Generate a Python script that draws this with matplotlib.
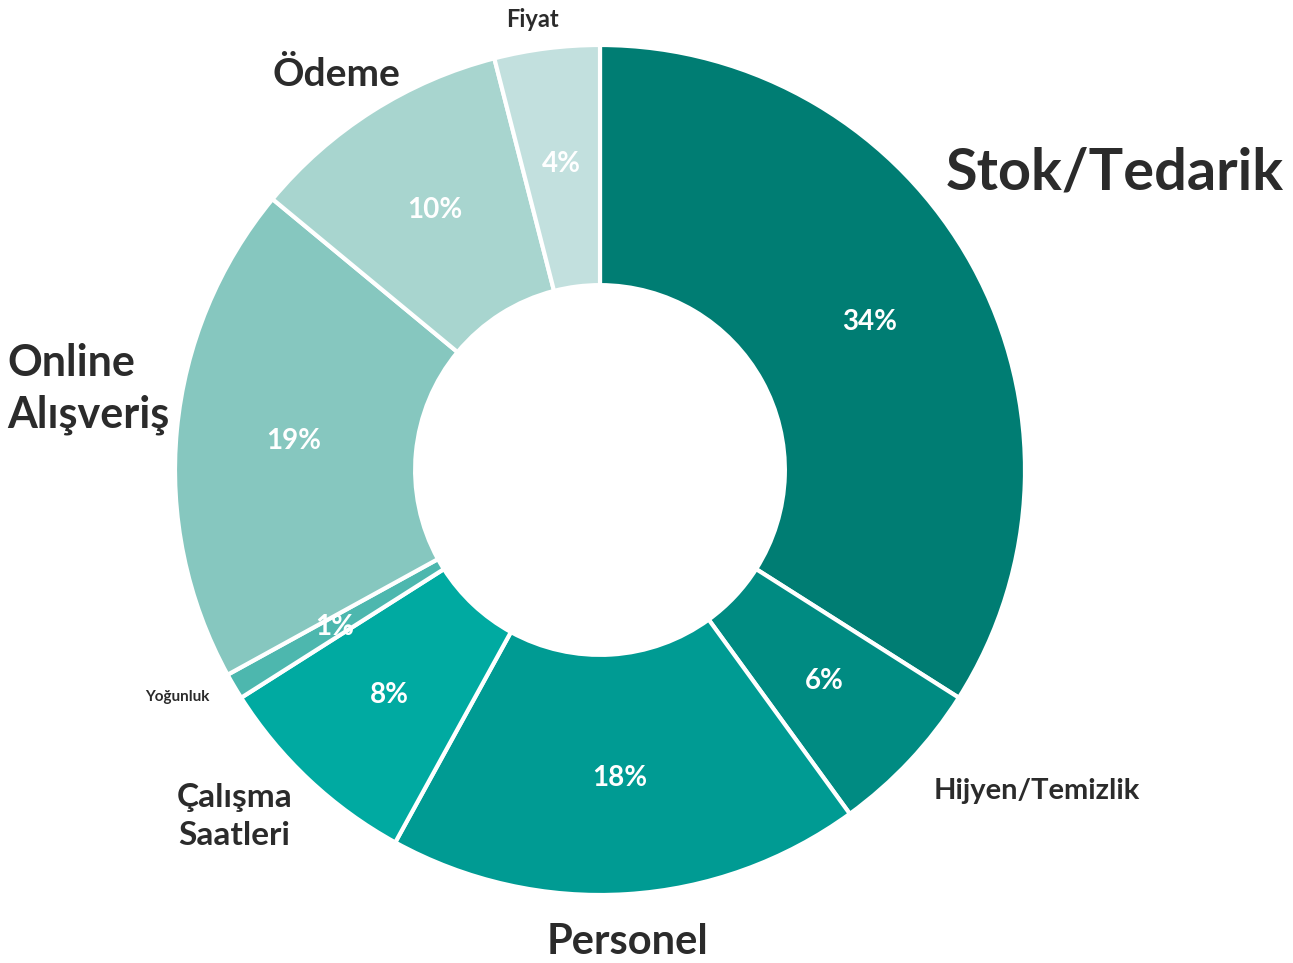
import numpy as np
import matplotlib.pyplot as plt

plt.rcParams["font.family"] = ["Lato", "DejaVu Sans"]

# shares of complaint topics, clockwise from top
labels = ["Stok/Tedarik", "Hijyen/Temizlik", "Personel", "Çalışma\nSaatleri",
          "Yoğunluk", "Online\nAlışveriş", "Ödeme", "Fiyat"]
values = [34, 6, 18, 8, 1, 19, 10, 4]
colors = ["#007D73", "#008B82", "#009B93", "#00AAA1",
          "#4DB7AE", "#86C7BF", "#A8D5CF", "#C2E0DE"]

# outer label placement (x, y, size, ha, linespacing)
label_pos = [(1.212, 0.70, 41.5, "center", 1.2),
             (1.028, -0.755, 21, "center", 1.2),
             (0.064, -1.11, 30, "center", 1.2),
             (-0.86, -0.815, 24, "center", 1.4),
             (-0.995, -0.535, 11, "center", 1.2),
             (-1.395, 0.19, 31, "left", 1.35),
             (-0.619, 0.93, 28, "center", 1.2),
             (-0.158, 1.06, 17, "center", 1.2)]

fig = plt.figure(figsize=(12.93, 9.63), dpi=100)
ax = fig.add_axes([0, 0, 1, 1])

wedges, texts, autotexts = ax.pie(
    values, colors=colors, startangle=90, counterclock=False,
    autopct="%1.0f%%", pctdistance=0.725,
    wedgeprops=dict(width=0.565, edgecolor="white", linewidth=3),
    textprops=dict(color="white", fontsize=20, fontweight="bold"))

for (x, y, s, ha, ls), lab in zip(label_pos, labels):
    ax.text(x, y, lab, fontsize=s, fontweight="bold", color="#2B2B2B",
            ha=ha, va="center", linespacing=ls)

ax.set_xlim(-600 / 425, 693 / 425)
ax.set_ylim(-493 / 425, 470 / 425)
ax.set_aspect("equal")
ax.axis("off")

fig.savefig("out.png", dpi=100)
